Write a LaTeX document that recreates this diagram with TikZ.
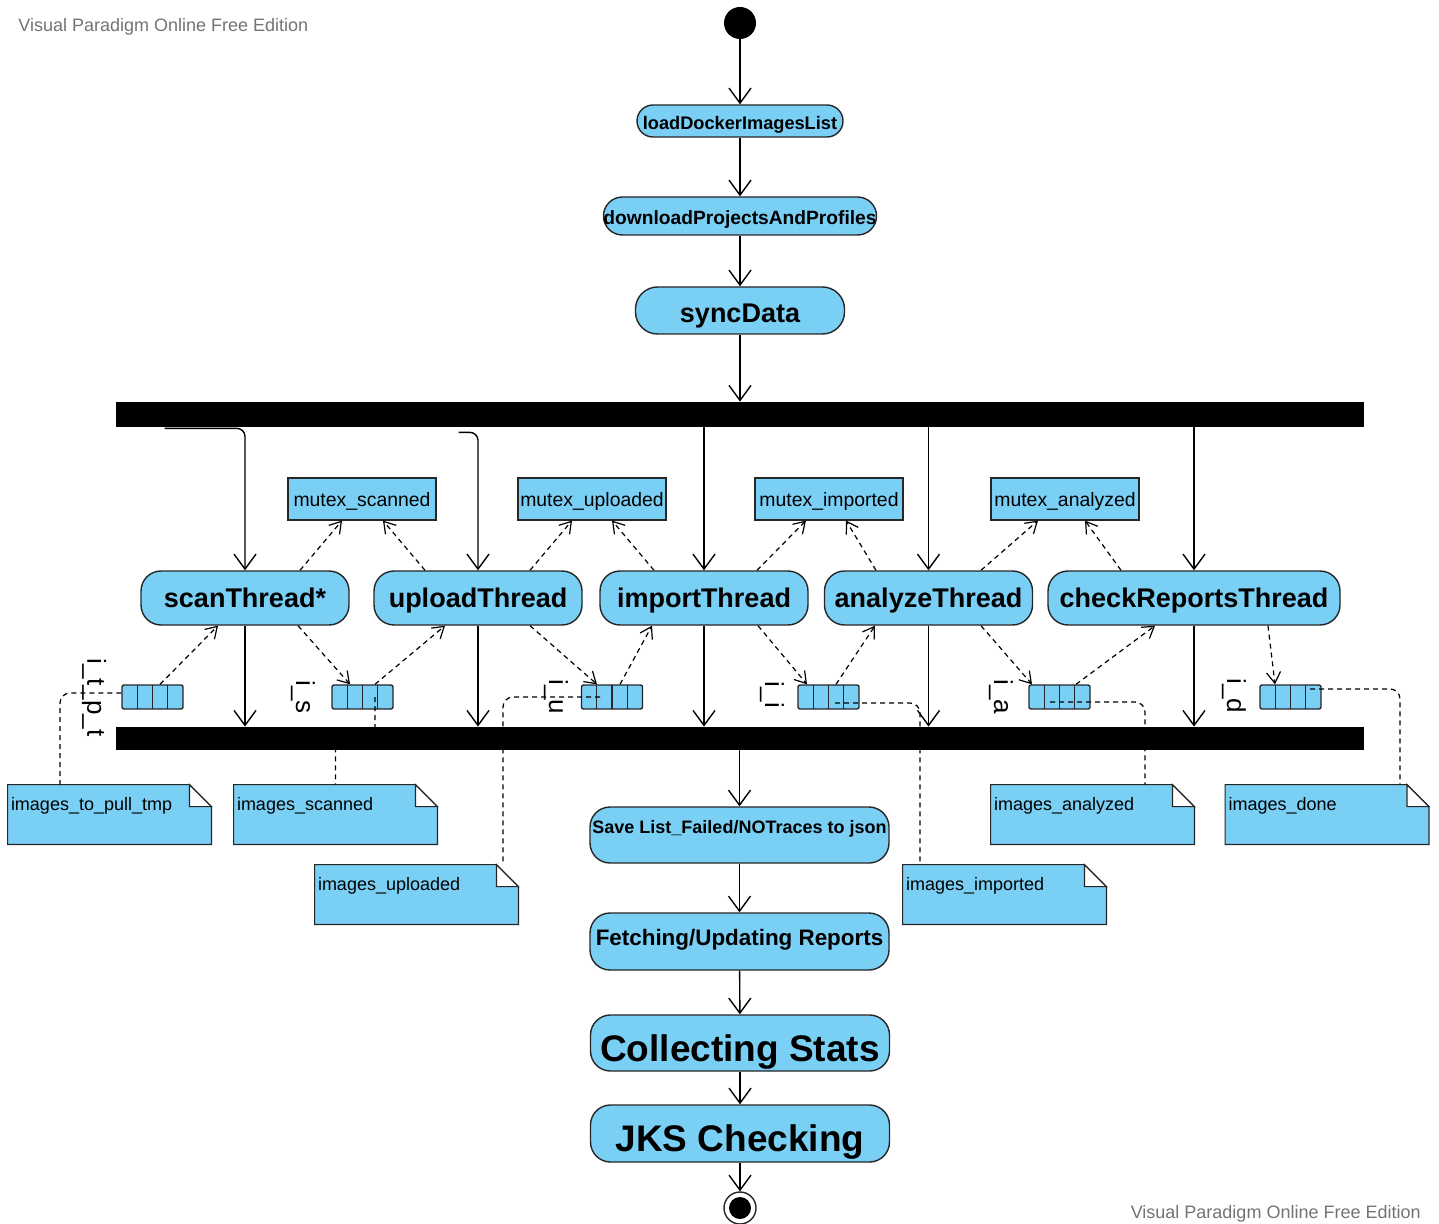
\documentclass[tikz,border=0pt]{standalone}
\usepackage{fontspec}
\setmainfont{Liberation Sans}
\usetikzlibrary{arrows.meta,calc}

\definecolor{vpblue}{RGB}{122,207,245}
\newcommand{\fsz}[1]{\fontsize{#1}{#1}\selectfont}
% note with folded corner: name, centre, text
\newcommand{\docnote}[3]{%
  \node[notebox] (#1) at (#2) {};
  \filldraw[notefill] (#1.north west) -- ([xshift=-11pt]#1.north east) -- ([yshift=-11pt]#1.north east) -- (#1.south east) -- (#1.south west) -- cycle;
  \filldraw[notefold] ([xshift=-11pt]#1.north east) -- ([xshift=-11pt,yshift=-11pt]#1.north east) -- ([yshift=-11pt]#1.north east) -- cycle;
  \node[notetext] (#1-text) at (#1.north west) {#3};}

\begin{document}
\begin{tikzpicture}[x=0.5pt, y=-0.5pt,
    txt/.style 2 args={text height=#1, text depth=#2},
    act/.style={draw=black!85, fill=vpblue, line width=0.7pt, inner sep=0pt},
    thread/.style={act, rounded corners=10pt, minimum width=104pt, minimum height=27pt, txt={9.7pt}{0pt}, font=\fsz{13.5}\bfseries},
    mainstep/.style={act, rounded corners=10pt, minimum width=149.5pt, minimum height=28pt},
    mutexbox/.style={draw=black!85, fill=vpblue, line width=0.6pt, minimum width=74pt, minimum height=21pt, inner sep=0pt, txt={8pt}{0pt}, font=\fsz{9.7}},
    pinbox/.style={draw=black!85, fill=vpblue, line width=0.7pt, rounded corners=1pt, minimum width=30.5pt, minimum height=12pt, inner sep=0pt,
      path picture={\foreach \k in {1,2,3}
        \draw[black!85, line width=0.7pt] ($(path picture bounding box.south west)!\k/4!(path picture bounding box.south east)$) -- ($(path picture bounding box.north west)!\k/4!(path picture bounding box.north east)$);}},
    pinlabel/.style={rotate=-90, inner sep=0pt, font=\fsz{13}},
    notebox/.style={minimum width=101.5pt, minimum height=29.5pt, inner sep=0pt},
    notefill/.style={draw=black!85, fill=vpblue, line width=0.6pt},
    notefold/.style={draw=black!85, fill=white, line width=0.6pt},
    notetext/.style={anchor=north west, inner sep=1.5pt, yshift=-4.5pt, font=\fsz{9}},
    bar/.style={fill=black, minimum width=624pt, inner sep=0pt},
    flow/.style={line width=0.7pt, -{Straight Barb[length=7.5pt,width=11pt]}},
    dep/.style={line width=0.6pt, dash pattern=on 2.5pt off 2pt, -{Straight Barb[length=5.5pt,width=7pt]}},
    link/.style={line width=0.6pt, dash pattern=on 2.5pt off 2pt, rounded corners=5pt},
    wmark/.style={text=black!55, inner sep=0pt, font=\fsz{9}}]

    \useasboundingbox (0,0) rectangle (1439,1224);

    % Watermarks
    \node[wmark, anchor=west] (wmtop) at (18,27) {Visual Paradigm Online Free Edition};
    \node[wmark, anchor=east] (wmbot) at (1421,1214) {Visual Paradigm Online Free Edition};

    % Setup steps
    \node[circle, fill=black, minimum size=16pt, inner sep=0pt] (start) at (740,23) {};
    \node[act, rounded corners=8pt, minimum width=103pt, minimum height=16pt, txt={8.6pt}{0pt}, font=\fsz{9.1}\bfseries] (load) at (740,121) {loadDockerImagesList};
    \node[act, rounded corners=9.5pt, minimum width=136.5pt, minimum height=19pt, txt={8.9pt}{0pt}, font=\fsz{9.6}\bfseries] (download) at (740,216) {downloadProjectsAndProfiles};
    \node[act, rounded corners=11pt, minimum width=104.5pt, minimum height=23.5pt, txt={12.2pt}{0pt}, font=\fsz{13.5}\bfseries] (sync) at (740,310.5) {syncData};

    % Fork bar
    \node[bar, minimum height=12.5pt] (fork) at (740,414.5) {};

    % Threads
    \node[thread] (scan) at (245,598) {scanThread*};
    \node[thread] (upload) at (478,598) {uploadThread};
    \node[thread] (import) at (704,598) {importThread};
    \node[thread] (analyze) at (928.5,598) {analyzeThread};
    \node[thread, minimum width=146pt] (check) at (1194,598) {checkReportsThread};

    % Mutexes
    \node[mutexbox] (ms) at (362,499) {mutex\_scanned};
    \node[mutexbox] (mu) at (592,499) {mutex\_uploaded};
    \node[mutexbox] (mi) at (829,499) {mutex\_imported};
    \node[mutexbox] (ma) at (1065,499) {mutex\_analyzed};

    % Pins and their labels
    \node[pinbox] (ptpt) at (152.5,697) {};
    \node[pinbox] (pis) at (362.5,697) {};
    \node[pinbox] (piu) at (612,697) {};
    \node[pinbox] (pii) at (828.5,697) {};
    \node[pinbox] (pia) at (1059.5,697) {};
    \node[pinbox] (pid) at (1290.5,697) {};
    \node[pinlabel] (lptpt) at (94,697.5) {i\_t\_p\_t};
    \node[pinlabel] (lis) at (303,697) {i\_s};
    \node[pinlabel] (liu) at (556,697) {i\_u};
    \node[pinlabel] (lii) at (772,695) {i\_i};
    \node[pinlabel] (lia) at (1001,697) {i\_a};
    \node[pinlabel] (lid) at (1234,696) {i\_d};

    % Notes
    \docnote{ntp}{109.5,814.5}{images\_to\_pull\_tmp}
    \docnote{nsc}{335.5,814.5}{images\_scanned}
    \docnote{nup}{416.5,894.5}{images\_uploaded}
    \docnote{nim}{1004.5,894.5}{images\_imported}
    \docnote{nan}{1092.5,814.5}{images\_analyzed}
    \docnote{ndn}{1327,814.5}{images\_done}

    % Pin to note links
    \draw[link] ([yshift=2pt]ptpt.west) -| ([xshift=-24.75pt]ntp.north);
    \draw[link] ([xshift=6.25pt]pis.center) -- ++(0,41) -| (nsc.north);
    \draw[link] ([xshift=-6pt]piu.center) -| ([xshift=43.25pt]nup.north);
    \draw[link] ([xshift=3.25pt,yshift=-3pt]pii.center) -| ([xshift=-42.25pt]nim.north);
    \draw[link] ([xshift=-4.75pt,yshift=-2.5pt]pia.center) -| ([xshift=26.25pt]nan.north);
    \draw[link] ([xshift=9.75pt,yshift=4pt]pid.center) -| ([xshift=36.5pt]ndn.north);

    % Join bar
    \node[bar, minimum height=11.5pt] (join) at (740,738.5) {};

    % Closing steps
    \node[mainstep, txt={6.5pt}{8pt}, font=\fsz{9}\bfseries] (save) at (739.5,835) {Save List\_Failed/NOTraces to json};
    \node[mainstep, minimum height=28.5pt, txt={8.1pt}{4.5pt}, font=\fsz{11.2}\bfseries] (fetch) at (739.5,941.5) {Fetching/Updating Reports};
    \node[mainstep, txt={18.3pt}{0pt}, font=\fsz{18.5}\bfseries] (collect) at (740,1043) {Collecting Stats};
    \node[mainstep, minimum height=28.5pt, txt={17.8pt}{0pt}, font=\fsz{18.5}\bfseries] (jks) at (740,1133.5) {JKS Checking};
    \node[circle, draw=black!85, line width=0.7pt, minimum size=16pt, inner sep=0pt] (final) at (740,1208) {};
    \fill (final.center) circle (5.5pt);

    % Control flow
    \draw[flow] (start) -- (load);
    \draw[flow] (load) -- (download);
    \draw[flow] (download) -- (sync);
    \draw[flow] (sync) -- (sync |- fork.north);
    \draw[flow, rounded corners=4pt] ($(fork.south west)+(24.5pt,-0.5pt)$) -| (scan.north);
    \draw[flow, rounded corners=4pt] ($(fork.south west)+(171.5pt,-2.5pt)$) -| (upload.north);
    \draw[flow] (fork.south -| import.north) -- (import.north);
    \draw[flow] (fork.south -| analyze.north) -- (analyze.north);
    \draw[flow] (fork.south -| check.north) -- (check.north);
    \foreach \t in {scan,upload,import,analyze,check}
        \draw[flow] (\t.south) -- (\t.south |- join.north);
    \draw[flow] (save.north |- join.south) -- (save.north);
    \draw[flow] (save) -- (fetch);
    \draw[flow] (fetch) -- (collect);
    \draw[flow] (collect) -- (jks);
    \draw[flow] (jks) -- (final);

    % Mutex use
    \draw[dep] ([xshift=27.5pt]scan.north) -- ([xshift=-10pt]ms.south);
    \draw[dep] ([xshift=-26.5pt]upload.north) -- ([xshift=10.5pt]ms.south);
    \draw[dep] ([xshift=26pt]upload.north) -- ([xshift=-10pt]mu.south);
    \draw[dep] ([xshift=-25pt]import.north) -- ([xshift=10pt]mu.south);
    \draw[dep] ([xshift=26.5pt]import.north) -- ([xshift=-11.5pt]mi.south);
    \draw[dep] ([xshift=-26.25pt]analyze.north) -- ([xshift=8.5pt]mi.south);
    \draw[dep] ([xshift=26.25pt]analyze.north) -- ([xshift=-13.5pt]ma.south);
    \draw[dep] ([xshift=-36.5pt]check.north) -- ([xshift=10pt]ma.south);

    % Object flow through pins
    \draw[dep] ([xshift=3.75pt]ptpt.north) -- ([xshift=-13.5pt]scan.south);
    \draw[dep] ([xshift=26.5pt]scan.south) -- ([xshift=-6.25pt]pis.north);
    \draw[dep] ([xshift=6.25pt]pis.north) -- ([xshift=-16.5pt]upload.south);
    \draw[dep] ([xshift=26pt]upload.south) -- ([xshift=-7.5pt]piu.north);
    \draw[dep] ([xshift=4pt]piu.north) -- ([xshift=-26pt]import.south);
    \draw[dep] ([xshift=27pt]import.south) -- ([xshift=-10.75pt]pii.north);
    \draw[dep] ([xshift=3.75pt]pii.north) -- ([xshift=-26.75pt]analyze.south);
    \draw[dep] ([xshift=26.25pt]analyze.south) -- ([xshift=-13.75pt]pia.north);
    \draw[dep] ([xshift=8.25pt]pia.north) -- ([xshift=-19.5pt]check.south);
    \draw[dep] ([xshift=37pt]check.south) -- ([xshift=-7.75pt]pid.north);
\end{tikzpicture}
\end{document}
